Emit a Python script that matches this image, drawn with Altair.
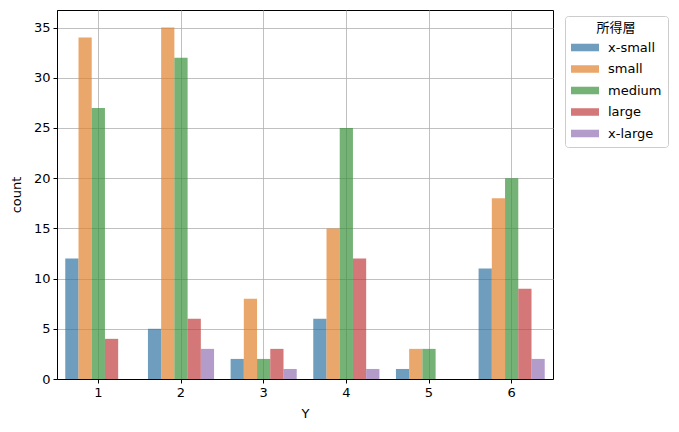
import altair as alt
import pandas as pd

categories = ["1", "2", "3", "4", "5", "6"]
hues = ["x-small", "small", "medium", "large", "x-large"]
counts = {
    "x-small": [12, 5, 2, 6, 1, 11],
    "small":   [34, 35, 8, 15, 3, 18],
    "medium":  [27, 32, 2, 25, 3, 20],
    "large":   [4, 6, 3, 12, 0, 9],
    "x-large": [0, 3, 1, 1, 0, 2],
}
colors = ["#3274a1", "#e1812c", "#3a923a", "#c03d3e", "#9372b2"]

rows = []
for h in hues:
    for c, v in zip(categories, counts[h]):
        rows.append({"Y": c, "所得層": h, "count": v})
df = pd.DataFrame(rows)

font = "DejaVu Sans, Noto Sans CJK JP"

chart = alt.Chart(df).mark_bar(opacity=0.7).encode(
    x=alt.X("Y:N", sort=categories,
            scale=alt.Scale(paddingInner=0.2, paddingOuter=0.1),
            axis=alt.Axis(labelAngle=0, bandPosition=0.5, title="Y")),
    xOffset=alt.XOffset("所得層:N", sort=hues, scale=alt.Scale(domain=hues, padding=0)),
    y=alt.Y("count:Q", scale=alt.Scale(domain=[0, 36.75], nice=False),
            axis=alt.Axis(values=[0, 5, 10, 15, 20, 25, 30, 35], title="count")),
    color=alt.Color("所得層:N", sort=hues,
                    scale=alt.Scale(domain=hues, range=colors),
                    legend=alt.Legend(
                        orient="none", legendX=508, legendY=6,
                        title="所得層", titleAlign="center", titleAnchor="middle",
                        titleFontWeight="normal", titleFontSize=13, titleFont=font,
                        titlePadding=6,
                        labelFontSize=13, labelFont=font, labelOffset=24,
                        symbolType="M-1,-0.58L3.31,-0.58L3.31,0.58L-1,0.58Z",
                        symbolSize=169, symbolStrokeWidth=0, symbolOpacity=0.7,
                        rowPadding=7.5, padding=6,
                        strokeColor="#cccccc", cornerRadius=3,
                        fillColor="white")),
).properties(
    width=496, height=369,
    autosize=alt.AutoSizeParams(type="none"),
    padding={"left": 49, "top": 2, "right": 116, "bottom": 40},
).configure_view(
    stroke="black", strokeWidth=1
).configure_axis(
    domainColor="black", tickColor="black", tickSize=4, labelPadding=3,
    labelFontSize=13, labelFont=font, labelColor="black",
    titleFontSize=13, titleFont=font, titleFontWeight="normal", titleColor="black",
    grid=True, gridColor="#b0b0b0", gridWidth=0.8,
).configure_axisY(
    titlePadding=10
).configure_axisX(
    titlePadding=8
)

chart.save("out.html", embed_options={"renderer": "svg", "actions": False})
